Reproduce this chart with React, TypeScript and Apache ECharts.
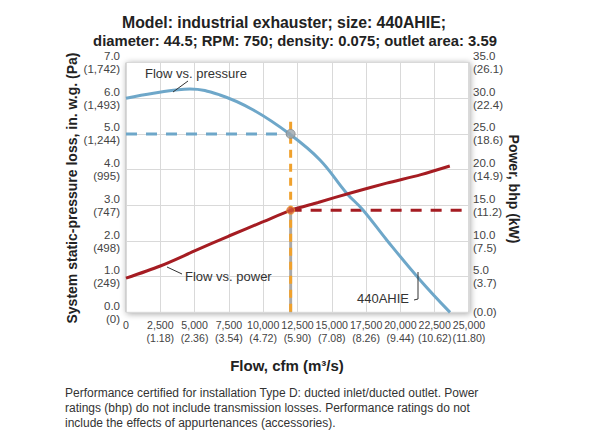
import React, { useEffect, useRef } from "react";
import * as echarts from "echarts";

const flowPressure: number[] = [0, 2000, 4660, 6850, 9280, 11950, 14140, 16080, 17270, 19000, 21430, 23620];
const pressureValues: number[] = [6.0, 6.14, 6.26, 6.09, 5.67, 4.99, 4.27, 3.34, 2.87, 2.03, 0.91, 0.0];

const flowPower: number[] = [0, 2500, 5000, 7500, 10000, 12000, 14000, 16500, 19000, 21500, 23600];
const powerValues: number[] = [4.8, 6.5, 8.6, 10.7, 12.7, 14.3, 15.4, 16.8, 18.1, 19.3, 20.5];

const opFlow = 12000;
const opPressure = 5.0;
const opPower = 14.3;
const orangeTop = 5.34;

const paLabels: string[] = ["0", "249", "498", "747", "995", "1,244", "1,493", "1,742"];
const kwLabels: string[] = ["0.0", "3.7", "7.5", "11.2", "14.9", "18.6", "22.4", "26.1"];
const m3sLabels: string[] = ["", "1.18", "2.36", "3.54", "4.72", "5.90", "7.08", "8.26", "9.44", "10.62", "11.80"];

const FONT = "'Liberation Sans', Arial, Helvetica, sans-serif";
const BLUE = "#6ea7c9";
const RED = "#a51c22";
const ORANGE = "#f0a12c";

export default function App() {
  const ref = useRef<HTMLDivElement>(null);
  useEffect(() => {
    if (!ref.current) return;
    const chart = echarts.init(ref.current, null, { renderer: "svg" });
    const labelStyle = { color: "#444", fontSize: 11.5, fontFamily: FONT, lineHeight: 13 };
    chart.setOption({
      animation: false,
      backgroundColor: "#fff",
      grid: {
        left: 126,
        right: 131,
        top: 62.5,
        bottom: 128.6,
        show: true,
        borderColor: "#b5b5b5",
        borderWidth: 1,
        backgroundColor: "#fff",
        shadowBlur: 6,
        shadowColor: "rgba(0,0,0,0.35)",
        shadowOffsetX: 1,
        shadowOffsetY: 1,
      },
      xAxis: {
        type: "value",
        min: 0,
        max: 25000,
        interval: 2500,
        axisLine: { show: false },
        axisTick: { show: false },
        splitLine: { lineStyle: { color: "#d9d9d9", width: 1 } },
        axisLabel: {
          ...labelStyle,
          fontSize: 10.6,
          margin: 6,
          interval: 0,
          hideOverlap: false,
          showMaxLabel: true,
          showMinLabel: true,
          formatter: (v: number) => {
            const i = Math.round(v / 2500);
            if (v === 0) return "0";
            return v.toLocaleString("en-US") + "\n(" + m3sLabels[i] + ")";
          },
        },
      },
      yAxis: [
        {
          type: "value",
          min: 0,
          max: 7,
          interval: 1,
          axisLine: { show: false },
          axisTick: { show: false },
          splitLine: { lineStyle: { color: "#d9d9d9", width: 1 } },
          axisLabel: {
            ...labelStyle,
            margin: 6,
            formatter: (v: number) => v.toFixed(1) + "\n(" + paLabels[Math.round(v)] + ")",
          },
        },
        {
          type: "value",
          min: 0,
          max: 35,
          interval: 5,
          position: "right",
          axisLine: { show: false },
          axisTick: { show: false },
          splitLine: { show: false },
          axisLabel: {
            ...labelStyle,
            margin: 4,
            formatter: (v: number) => {
              const i = Math.round(v / 5);
              if (v === 0) return "(" + kwLabels[0] + ")";
              return v.toFixed(1) + "\n(" + kwLabels[i] + ")";
            },
          },
        },
      ],
      series: [
        {
          name: "op-gray",
          type: "line",
          yAxisIndex: 1,
          data: [[opFlow, 0], [opFlow, opPower]],
          symbol: "none",
          lineStyle: { color: "#a9a9a9", width: 3 },
          z: 2,
        },
        {
          name: "op-orange",
          type: "line",
          yAxisIndex: 0,
          data: [[opFlow, orangeTop], [opFlow, 0]],
          symbol: "none",
          lineStyle: { color: ORANGE, width: 3, type: [8, 6] },
          z: 3,
        },
        {
          name: "op-blue-dash",
          type: "line",
          yAxisIndex: 0,
          data: [[0, opPressure], [opFlow, opPressure]],
          symbol: "none",
          lineStyle: { color: BLUE, width: 3, type: [11, 9] },
          z: 3,
        },
        {
          name: "op-red-dash",
          type: "line",
          yAxisIndex: 1,
          data: [[opFlow, opPower], [25000, opPower]],
          symbol: "none",
          lineStyle: { color: RED, width: 3, type: [11, 9] },
          z: 3,
        },
        {
          name: "Flow vs. pressure",
          type: "line",
          yAxisIndex: 0,
          smooth: 0.4,
          data: flowPressure.map((f, i) => [f, pressureValues[i]]),
          symbol: "none",
          lineStyle: { color: BLUE, width: 3 },
          z: 4,
        },
        {
          name: "Flow vs. power",
          type: "line",
          yAxisIndex: 1,
          smooth: 0.3,
          data: flowPower.map((f, i) => [f, powerValues[i]]),
          symbol: "none",
          lineStyle: { color: RED, width: 3 },
          z: 4,
        },
        {
          name: "op-point-p",
          type: "scatter",
          yAxisIndex: 0,
          data: [[opFlow, opPressure]],
          symbol: "circle",
          symbolSize: 9,
          itemStyle: { color: "#9aa5ad", borderColor: "#8a8a8a", borderWidth: 1 },
          z: 5,
        },
        {
          name: "op-point-w",
          type: "scatter",
          yAxisIndex: 1,
          data: [[opFlow, opPower]],
          symbol: "circle",
          symbolSize: 8,
          itemStyle: { color: "#d0563a", borderColor: ORANGE, borderWidth: 1 },
          z: 5,
        },
      ],
      graphic: [
        {
          type: "text",
          x: 284,
          y: 22,
          style: {
            text: "Model: industrial exhauster; size: 440AHIE;",
            font: "bold 15.8px " + FONT,
            fill: "#222",
            textAlign: "center",
            textVerticalAlign: "middle",
          },
        },
        {
          type: "text",
          x: 295,
          y: 41,
          style: {
            text: "diameter: 44.5; RPM: 750; density: 0.075; outlet area: 3.59",
            font: "bold 14.8px " + FONT,
            fill: "#222",
            textAlign: "center",
            textVerticalAlign: "middle",
          },
        },
        {
          type: "text",
          x: 72,
          y: 188,
          rotation: Math.PI / 2,
          style: {
            text: "System static-pressure loss, in. w.g. (Pa)",
            font: "bold 14px " + FONT,
            fill: "#222",
            textAlign: "center",
            textVerticalAlign: "middle",
          },
        },
        {
          type: "text",
          x: 514,
          y: 189,
          rotation: -Math.PI / 2,
          style: {
            text: "Power, bhp (kW)",
            font: "bold 14px " + FONT,
            fill: "#222",
            textAlign: "center",
            textVerticalAlign: "middle",
          },
        },
        {
          type: "text",
          x: 287,
          y: 365,
          style: {
            text: "Flow, cfm (m³/s)",
            font: "bold 15px " + FONT,
            fill: "#222",
            textAlign: "center",
            textVerticalAlign: "middle",
          },
        },
        {
          type: "text",
          x: 65,
          y: 385,
          style: {
            text:
              "Performance certified for installation Type D: ducted inlet/ducted outlet. Power\nratings (bhp) do not include transmission losses. Performance ratings do not\ninclude the effects of appurtenances (accessories).",
            font: "12px " + FONT,
            lineHeight: 15,
            fill: "#333",
            textAlign: "left",
            textVerticalAlign: "top",
          },
        },
        {
          type: "text",
          x: 145,
          y: 73,
          z: 10,
          style: {
            text: "Flow vs. pressure",
            font: "13px " + FONT,
            fill: "#333",
            textAlign: "left",
            textVerticalAlign: "middle",
          },
        },
        {
          type: "line",
          z: 10,
          shape: { x1: 188, y1: 81, x2: 173, y2: 92 },
          style: { stroke: "#333", lineWidth: 1 },
        },
        {
          type: "text",
          x: 185,
          y: 276,
          z: 10,
          style: {
            text: "Flow vs. power",
            font: "13px " + FONT,
            fill: "#333",
            textAlign: "left",
            textVerticalAlign: "middle",
          },
        },
        {
          type: "line",
          z: 10,
          shape: { x1: 167, y1: 267, x2: 182, y2: 274 },
          style: { stroke: "#333", lineWidth: 1 },
        },
        {
          type: "text",
          x: 357,
          y: 298,
          z: 10,
          style: {
            text: "440AHIE",
            font: "13px " + FONT,
            fill: "#333",
            textAlign: "left",
            textVerticalAlign: "middle",
          },
        },
        {
          type: "polyline",
          z: 10,
          shape: { points: [[418, 272], [418, 299], [414, 300]] },
          style: { stroke: "#333", lineWidth: 1, fill: "none" },
        },
      ],
    });
    return () => chart.dispose();
  }, []);
  return <div ref={ref} style={{ width: 600, height: 441, position: "absolute", left: 0, top: 0 }} />;
}
